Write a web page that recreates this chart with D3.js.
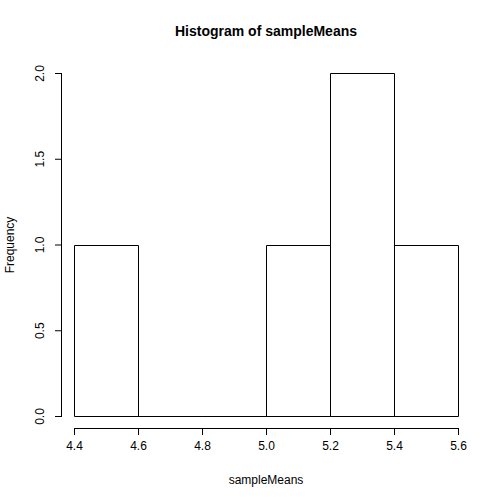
<!DOCTYPE html>
<meta charset="utf-8">
<script src="https://cdn.jsdelivr.net/npm/d3@7"></script>
<style>
body { margin: 0; background: #fff; }
text { font-family: "Liberation Sans", Arial, sans-serif; font-size: 12px; fill: #000; }
</style>
<body>
<svg id="chart" width="504" height="504"></svg>
<script>
var binStarts = [4.4, 4.6, 4.8, 5.0, 5.2, 5.4];
var binWidth = 0.2;
var counts = [1, 0, 0, 1, 2, 1];
var xTicks = [4.4, 4.6, 4.8, 5.0, 5.2, 5.4, 5.6];
var yTicks = [0, 0.5, 1.0, 1.5, 2.0];

var svg = d3.select("#chart");
var x = d3.scaleLinear().domain([4.4, 5.6]).range([74, 458]);
var y = d3.scaleLinear().domain([0, 2]).range([416, 73]);

// bars drawn as closed paths so zero-height bins still show their outline
svg.selectAll("path.bar").data(binStarts).enter().append("path")
  .attr("class", "bar")
  .attr("d", function(d, i) {
    var x0 = Math.round(x(d)) + 0.5, x1 = Math.round(x(d + binWidth)) + 0.5;
    var y0 = Math.round(y(0)) + 0.5, y1 = Math.round(y(counts[i])) + 0.5;
    return "M" + x0 + "," + y0 + "V" + y1 + "H" + x1 + "V" + y0 + "Z";
  })
  .attr("fill", "none").attr("stroke", "#000").attr("stroke-width", 1);

// x axis
var xa = svg.append("g").attr("transform", "translate(0,428)")
  .call(d3.axisBottom(x).tickValues(xTicks).tickSize(7).tickPadding(6)
    .tickFormat(d3.format(".1f")));
xa.select(".domain").attr("d", "M" + x(4.4) + ",0.5H" + x(5.6));
xa.selectAll("text").style("font-size", "12px").style("font-family", "Liberation Sans, Arial, sans-serif");

// y axis
var ya = svg.append("g").attr("transform", "translate(62,0)")
  .call(d3.axisLeft(y).tickValues(yTicks).tickSize(7).tickPadding(6)
    .tickFormat(d3.format(".1f")));
ya.select(".domain").attr("d", "M-0.5," + y(0) + "V" + y(2));
ya.selectAll(".tick text").attr("transform", "rotate(-90)")
  .attr("x", 0).attr("y", -18).attr("dy", "0").attr("text-anchor", "middle")
  .style("font-size", "12px").style("font-family", "Liberation Sans, Arial, sans-serif");

svg.append("text").attr("x", 266).attr("y", 36).attr("text-anchor", "middle")
  .style("font-weight", "bold").style("font-size", "14px").text("Histogram of sampleMeans");
svg.append("text").attr("x", 266).attr("y", 484).attr("text-anchor", "middle").text("sampleMeans");
svg.append("text").attr("transform", "translate(14,245) rotate(-90)")
  .attr("text-anchor", "middle").text("Frequency");
</script>
</body>
